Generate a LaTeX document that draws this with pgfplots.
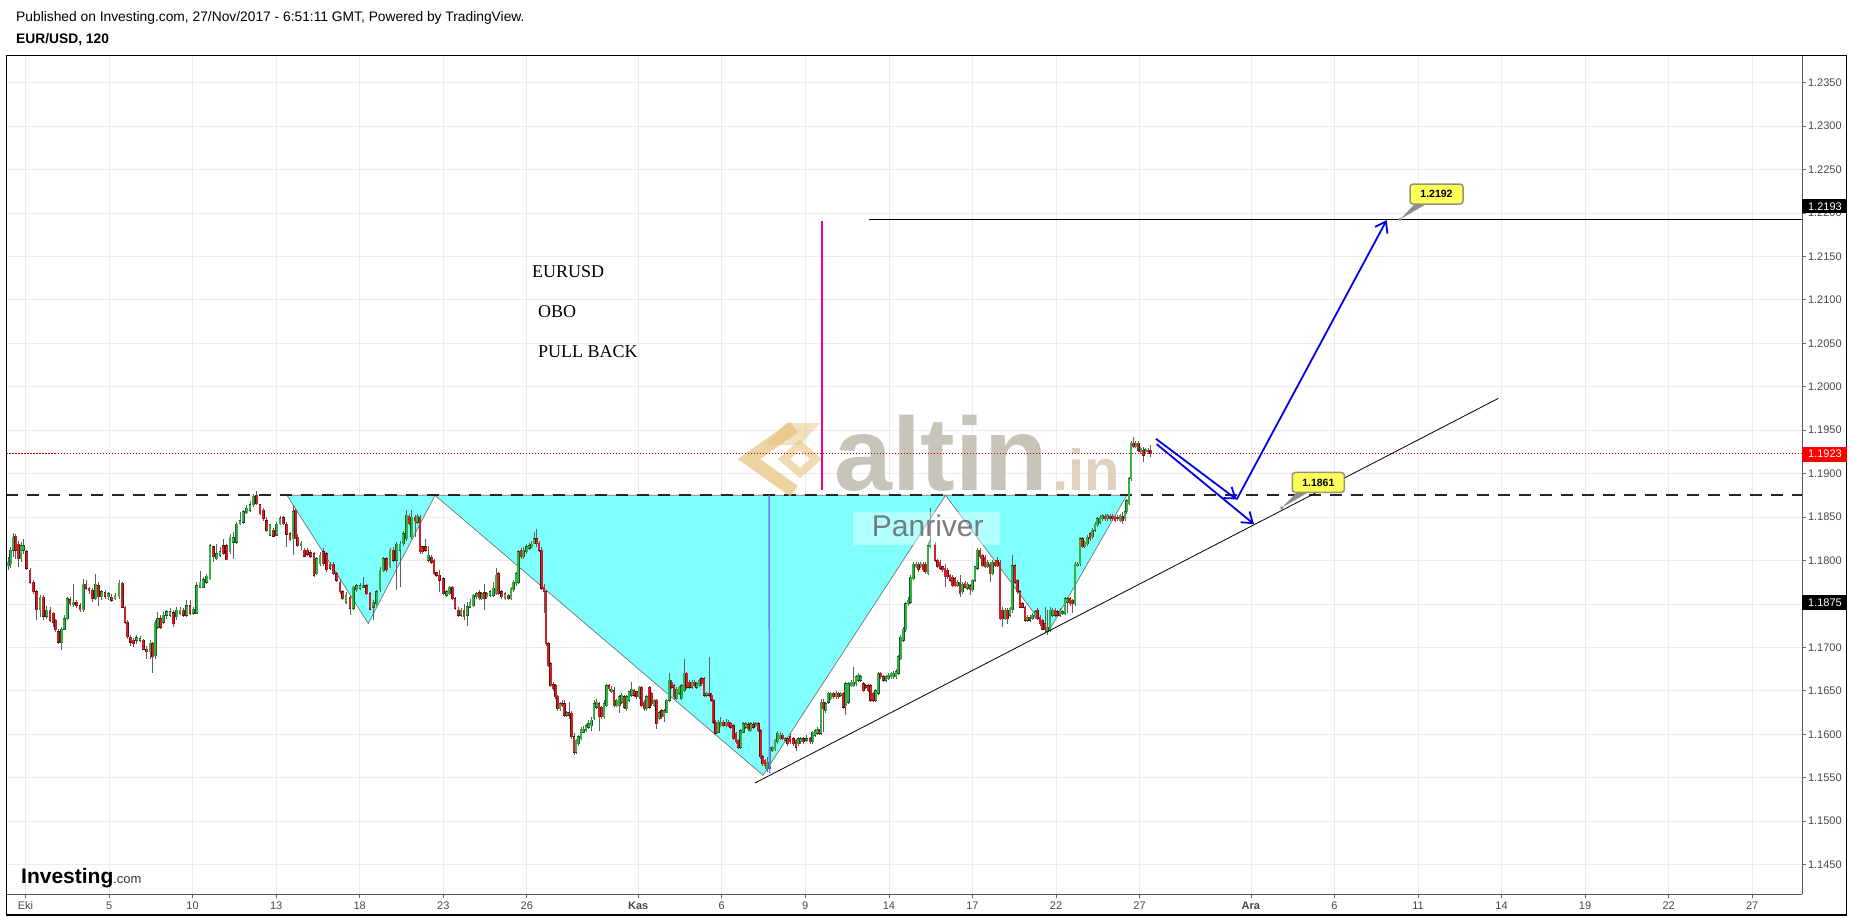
\documentclass[border=0pt]{standalone}
\usepackage{fontspec}
\setmainfont{Liberation Sans}
\newfontfamily\timesfont{Liberation Serif}
\usepackage{pgfplots}
\pgfplotsset{compat=1.18}
\usepackage{pgfplotstable}
\usetikzlibrary{arrows.meta}
\definecolor{upc}{RGB}{52,178,72}
\definecolor{dnc}{RGB}{204,34,38}
\definecolor{upo}{RGB}{20,90,30}
\definecolor{dno}{RGB}{100,10,12}
\definecolor{wickc}{RGB}{95,95,95}
\definecolor{cy}{RGB}{128,255,255}
\definecolor{gridc}{RGB}{236,236,236}
\definecolor{arrowblue}{RGB}{0,0,230}
\definecolor{vblue}{RGB}{110,125,255}
\definecolor{gold}{RGB}{230,196,128}
\definecolor{altc}{RGB}{200,196,186}
\definecolor{inc}{RGB}{224,210,190}
\definecolor{ylw}{RGB}{255,255,90}
\definecolor{ylwb}{RGB}{150,150,110}
\pgfplotsset{candle/.style={draw=none, mark=none, forget plot, error bars/.cd, y dir=plus, y explicit, error mark=none, error bar style={#1}}}

\pgfplotstableread{
x o h l c
8.3 1.1794 1.1804 1.1789 1.1798
10.7 1.1796 1.1816 1.1791 1.1812
13.3 1.1812 1.1832 1.1804 1.1827
21 1.1802 1.1821 1.1798 1.1817
23.3 1.1812 1.1825 1.1808 1.1817
40 1.1743 1.1760 1.1735 1.1758
46.7 1.1736 1.1748 1.1733 1.1743
61.7 1.1705 1.1723 1.1697 1.1721
64.3 1.1721 1.1737 1.1720 1.1733
67.3 1.1733 1.1758 1.1731 1.1756
73.3 1.1749 1.1773 1.1746 1.1752
83.3 1.1743 1.1779 1.1741 1.1773
95.7 1.1756 1.1785 1.1754 1.1773
101.7 1.1758 1.1766 1.1754 1.1764
108.3 1.1758 1.1764 1.1755 1.1762
115 1.1756 1.1763 1.1754 1.1760
119 1.1758 1.1777 1.1756 1.1774
136.7 1.1708 1.1714 1.1704 1.1711
140 1.1708 1.1713 1.1706 1.1710
150 1.1695 1.1708 1.1687 1.1705
155.3 1.1690 1.1731 1.1687 1.1729
157.7 1.1723 1.1741 1.1721 1.1733
163.3 1.1729 1.1741 1.1727 1.1737
166.7 1.1737 1.1743 1.1733 1.1741
170 1.1737 1.1745 1.1735 1.1741
176.7 1.1735 1.1746 1.1731 1.1743
180 1.1739 1.1746 1.1737 1.1743
186.7 1.1737 1.1755 1.1735 1.1748
193.3 1.1739 1.1746 1.1737 1.1744
196.7 1.1739 1.1775 1.1738 1.1771
200 1.1769 1.1788 1.1768 1.1775
203.3 1.1769 1.1781 1.1768 1.1778
206.7 1.1775 1.1785 1.1773 1.1782
210 1.1779 1.1819 1.1777 1.1817
216.7 1.1802 1.1819 1.1800 1.1808
220 1.1806 1.1816 1.1804 1.1810
230 1.1810 1.1831 1.1808 1.1827
233.3 1.1821 1.1833 1.1802 1.1826
236.7 1.1821 1.1844 1.1819 1.1842
240 1.1842 1.1856 1.1841 1.1846
243.3 1.1844 1.1858 1.1842 1.1856
246.7 1.1855 1.1864 1.1853 1.1860
250 1.1858 1.1869 1.1856 1.1864
253.3 1.1864 1.1877 1.1862 1.1874
270 1.1829 1.1842 1.1828 1.1841
276.7 1.1829 1.1844 1.1828 1.1842
280 1.1842 1.1851 1.1841 1.1848
293.3 1.1825 1.1864 1.1806 1.1856
301 1.1817 1.1822 1.1812 1.1820
316.7 1.1785 1.1804 1.1783 1.1802
320 1.1796 1.1810 1.1794 1.1806
346 1.1752 1.1764 1.1750 1.1760
353.3 1.1745 1.1771 1.1743 1.1769
356.7 1.1766 1.1773 1.1764 1.1771
360 1.1768 1.1774 1.1766 1.1771
363.3 1.1769 1.1781 1.1768 1.1771
373.3 1.1746 1.1754 1.1731 1.1752
376.7 1.1750 1.1766 1.1748 1.1764
380 1.1766 1.1793 1.1764 1.1789
383.3 1.1788 1.1804 1.1787 1.1802
390 1.1793 1.1814 1.1791 1.1812
396.7 1.1800 1.1821 1.1766 1.1819
400 1.1812 1.1823 1.1769 1.1819
403.3 1.1819 1.1834 1.1817 1.1831
406.7 1.1825 1.1858 1.1823 1.1852
411.7 1.1827 1.1858 1.1825 1.1850
417.3 1.1844 1.1853 1.1842 1.1851
428.3 1.1800 1.1817 1.1798 1.1806
446.7 1.1760 1.1766 1.1758 1.1764
449.3 1.1762 1.1771 1.1760 1.1769
461 1.1737 1.1745 1.1735 1.1743
467.3 1.1737 1.1752 1.1725 1.1747
470 1.1746 1.1756 1.1745 1.1752
473.3 1.1748 1.1762 1.1746 1.1760
476.7 1.1758 1.1764 1.1756 1.1762
481.7 1.1756 1.1764 1.1754 1.1762
486.7 1.1758 1.1764 1.1756 1.1762
490 1.1760 1.1766 1.1758 1.1764
493.3 1.1760 1.1775 1.1758 1.1768
496 1.1762 1.1791 1.1760 1.1783
505 1.1756 1.1764 1.1754 1.1762
511 1.1756 1.1769 1.1754 1.1768
513.3 1.1766 1.1777 1.1764 1.1775
516 1.1773 1.1787 1.1771 1.1785
518.3 1.1775 1.1812 1.1773 1.1810
523.3 1.1804 1.1816 1.1802 1.1812
526.7 1.1810 1.1819 1.1808 1.1816
529.3 1.1814 1.1820 1.1812 1.1817
531.7 1.1816 1.1823 1.1814 1.1819
534 1.1819 1.1833 1.1819 1.1825
560 1.1629 1.1637 1.1627 1.1635
566.7 1.1622 1.1627 1.1620 1.1625
576 1.1579 1.1595 1.1577 1.1593
578.3 1.1589 1.1599 1.1587 1.1597
581 1.1595 1.1608 1.1593 1.1606
583.3 1.1602 1.1609 1.1601 1.1606
586 1.1604 1.1612 1.1602 1.1610
588.7 1.1608 1.1616 1.1606 1.1612
591.3 1.1610 1.1620 1.1604 1.1616
594 1.1618 1.1639 1.1616 1.1635
596.7 1.1631 1.1641 1.1629 1.1637
604 1.1620 1.1639 1.1618 1.1635
606.7 1.1633 1.1658 1.1631 1.1656
611.7 1.1649 1.1656 1.1647 1.1652
616.7 1.1633 1.1641 1.1631 1.1639
619.3 1.1633 1.1645 1.1625 1.1643
621.7 1.1637 1.1647 1.1635 1.1645
626.7 1.1629 1.1645 1.1627 1.1643
629 1.1639 1.1650 1.1637 1.1649
631.7 1.1645 1.1660 1.1643 1.1652
639.3 1.1643 1.1656 1.1641 1.1654
646.7 1.1629 1.1645 1.1627 1.1643
654.3 1.1633 1.1641 1.1631 1.1639
659.3 1.1618 1.1627 1.1616 1.1625
664 1.1620 1.1629 1.1614 1.1627
666.7 1.1625 1.1641 1.1624 1.1639
669.3 1.1639 1.1670 1.1637 1.1662
676.7 1.1641 1.1654 1.1639 1.1652
679.3 1.1647 1.1656 1.1645 1.1654
681.7 1.1641 1.1658 1.1639 1.1656
684.3 1.1650 1.1687 1.1649 1.1670
692 1.1654 1.1662 1.1652 1.1660
696.7 1.1654 1.1660 1.1652 1.1658
699.3 1.1656 1.1664 1.1654 1.1662
706.7 1.1645 1.1649 1.1643 1.1647
718.3 1.1602 1.1616 1.1601 1.1614
720.7 1.1610 1.1620 1.1608 1.1614
726 1.1610 1.1618 1.1608 1.1614
740.7 1.1585 1.1606 1.1583 1.1604
743.3 1.1602 1.1614 1.1601 1.1612
745.7 1.1608 1.1614 1.1606 1.1612
750.7 1.1604 1.1614 1.1602 1.1612
755.7 1.1610 1.1614 1.1608 1.1612
767.3 1.1560 1.1574 1.1556 1.1568
770 1.1562 1.1585 1.1560 1.1583
772.7 1.1581 1.1587 1.1579 1.1585
775 1.1583 1.1595 1.1581 1.1593
777.7 1.1591 1.1604 1.1589 1.1601
780 1.1595 1.1602 1.1593 1.1599
785 1.1593 1.1597 1.1591 1.1595
798.3 1.1589 1.1597 1.1587 1.1595
800.7 1.1591 1.1597 1.1589 1.1595
806.7 1.1593 1.1599 1.1591 1.1595
812.7 1.1591 1.1604 1.1589 1.1602
815 1.1599 1.1606 1.1597 1.1604
817.3 1.1601 1.1608 1.1599 1.1606
821 1.1601 1.1641 1.1599 1.1637
825.7 1.1627 1.1637 1.1625 1.1635
828.3 1.1637 1.1649 1.1635 1.1647
830.7 1.1641 1.1649 1.1639 1.1647
836 1.1643 1.1650 1.1641 1.1647
840.7 1.1645 1.1649 1.1643 1.1647
845.7 1.1633 1.1660 1.1622 1.1658
848.3 1.1637 1.1660 1.1635 1.1658
851 1.1656 1.1662 1.1654 1.1660
853.3 1.1656 1.1677 1.1654 1.1660
856 1.1658 1.1668 1.1656 1.1666
858.3 1.1662 1.1670 1.1660 1.1668
860.7 1.1662 1.1668 1.1660 1.1666
875.7 1.1639 1.1652 1.1637 1.1650
878.3 1.1647 1.1672 1.1645 1.1670
886 1.1662 1.1668 1.1660 1.1666
888.3 1.1664 1.1670 1.1662 1.1668
891 1.1666 1.1672 1.1664 1.1670
893.3 1.1666 1.1673 1.1664 1.1670
896 1.1666 1.1675 1.1664 1.1672
898.3 1.1670 1.1691 1.1668 1.1689
900.7 1.1687 1.1714 1.1685 1.1712
903.3 1.1708 1.1723 1.1706 1.1721
905.7 1.1720 1.1752 1.1718 1.1750
908.3 1.1750 1.1758 1.1748 1.1754
910.7 1.1752 1.1783 1.1750 1.1781
913.3 1.1779 1.1798 1.1777 1.1796
916 1.1793 1.1798 1.1791 1.1796
920.7 1.1793 1.1798 1.1791 1.1796
928 1.1785 1.1821 1.1783 1.1817
930 1.1816 1.1861 1.1814 1.1823
957.3 1.1771 1.1777 1.1769 1.1775
962.3 1.1764 1.1775 1.1762 1.1773
967.3 1.1768 1.1775 1.1766 1.1773
972.3 1.1766 1.1779 1.1764 1.1777
975 1.1777 1.1794 1.1775 1.1793
977.3 1.1791 1.1814 1.1789 1.1812
987.3 1.1793 1.1800 1.1791 1.1798
992.3 1.1785 1.1800 1.1783 1.1798
1005 1.1733 1.1745 1.1731 1.1743
1010 1.1737 1.1746 1.1735 1.1745
1012.3 1.1743 1.1806 1.1739 1.1794
1027.3 1.1731 1.1737 1.1729 1.1735
1032.3 1.1733 1.1739 1.1731 1.1737
1035 1.1735 1.1743 1.1733 1.1741
1047.3 1.1718 1.1743 1.1714 1.1723
1050 1.1720 1.1746 1.1718 1.1743
1052.7 1.1737 1.1745 1.1735 1.1743
1060 1.1737 1.1745 1.1735 1.1743
1062.3 1.1739 1.1743 1.1737 1.1741
1065 1.1739 1.1758 1.1737 1.1756
1067.3 1.1752 1.1758 1.1739 1.1756
1075 1.1750 1.1798 1.1748 1.1796
1077.3 1.1794 1.1798 1.1793 1.1796
1080 1.1796 1.1827 1.1794 1.1825
1084.7 1.1816 1.1823 1.1814 1.1821
1087.3 1.1819 1.1829 1.1817 1.1827
1092.3 1.1827 1.1837 1.1825 1.1835
1095 1.1835 1.1844 1.1833 1.1842
1097.3 1.1841 1.1850 1.1839 1.1848
1100 1.1844 1.1852 1.1842 1.1850
1102.3 1.1848 1.1854 1.1846 1.1852
1107.3 1.1848 1.1854 1.1846 1.1852
1120 1.1846 1.1854 1.1844 1.1852
1125 1.1848 1.1858 1.1846 1.1856
1126.7 1.1856 1.1871 1.1854 1.1869
1129 1.1865 1.1896 1.1864 1.1894
1131 1.1894 1.1937 1.1892 1.1935
1135.7 1.1931 1.1937 1.1929 1.1935
1140.7 1.1925 1.1931 1.1923 1.1929
1145.7 1.1925 1.1929 1.1923 1.1928
}\upbars

\pgfplotstableread{
x o h l c
15.7 1.1828 1.1831 1.1802 1.1812
18.3 1.1819 1.1823 1.1793 1.1802
26.7 1.1810 1.1812 1.1789 1.1791
30 1.1789 1.1791 1.1773 1.1775
33.3 1.1775 1.1777 1.1762 1.1764
36.7 1.1764 1.1766 1.1731 1.1743
43.3 1.1758 1.1760 1.1731 1.1736
50 1.1743 1.1746 1.1729 1.1731
53.3 1.1739 1.1741 1.1723 1.1729
55.7 1.1731 1.1733 1.1718 1.1720
58.3 1.1718 1.1721 1.1704 1.1706
70 1.1755 1.1758 1.1748 1.1750
76.7 1.1752 1.1754 1.1745 1.1748
80 1.1748 1.1751 1.1741 1.1743
86 1.1773 1.1777 1.1766 1.1768
89 1.1768 1.1769 1.1762 1.1765
92.3 1.1766 1.1768 1.1752 1.1756
98.3 1.1771 1.1775 1.1748 1.1758
105 1.1763 1.1766 1.1756 1.1759
111.7 1.1758 1.1761 1.1752 1.1754
122.3 1.1774 1.1775 1.1745 1.1746
125 1.1746 1.1748 1.1727 1.1729
127.3 1.1729 1.1731 1.1710 1.1712
130.7 1.1712 1.1714 1.1702 1.1706
133.3 1.1708 1.1711 1.1700 1.1704
143.3 1.1708 1.1710 1.1697 1.1698
146.7 1.1698 1.1702 1.1687 1.1695
152.7 1.1704 1.1706 1.1670 1.1689
160.7 1.1733 1.1737 1.1721 1.1723
173.3 1.1740 1.1743 1.1724 1.1727
183.3 1.1743 1.1745 1.1735 1.1737
190 1.1748 1.1754 1.1737 1.1739
213.3 1.1816 1.1817 1.1798 1.1804
223.3 1.1817 1.1825 1.1806 1.1808
226.7 1.1817 1.1819 1.1800 1.1801
256.7 1.1875 1.1880 1.1864 1.1865
260 1.1864 1.1865 1.1852 1.1854
263.3 1.1858 1.1860 1.1846 1.1848
266.7 1.1846 1.1850 1.1833 1.1834
273.3 1.1835 1.1837 1.1827 1.1828
283.3 1.1849 1.1851 1.1841 1.1842
286.7 1.1842 1.1844 1.1816 1.1830
290 1.1831 1.1833 1.1822 1.1824
295.7 1.1858 1.1860 1.1825 1.1827
297.7 1.1827 1.1831 1.1816 1.1817
304.3 1.1812 1.1814 1.1804 1.1805
307.3 1.1812 1.1814 1.1805 1.1807
310.7 1.1809 1.1812 1.1803 1.1805
314 1.1808 1.1810 1.1781 1.1783
323.3 1.1810 1.1814 1.1794 1.1796
326.7 1.1808 1.1810 1.1787 1.1789
330 1.1796 1.1798 1.1789 1.1791
333.3 1.1796 1.1798 1.1783 1.1785
336.7 1.1785 1.1787 1.1775 1.1777
340 1.1775 1.1779 1.1762 1.1764
342.7 1.1764 1.1766 1.1754 1.1756
350 1.1758 1.1760 1.1737 1.1745
366.7 1.1771 1.1773 1.1760 1.1762
370 1.1762 1.1764 1.1743 1.1744
386.7 1.1802 1.1804 1.1787 1.1789
393.3 1.1812 1.1816 1.1798 1.1800
409 1.1851 1.1854 1.1841 1.1842
415 1.1850 1.1852 1.1827 1.1846
420 1.1850 1.1852 1.1808 1.1810
422.3 1.1816 1.1817 1.1808 1.1810
425.7 1.1816 1.1825 1.1810 1.1812
431.7 1.1804 1.1806 1.1796 1.1798
434 1.1800 1.1802 1.1783 1.1785
436.7 1.1786 1.1787 1.1781 1.1783
439.3 1.1783 1.1789 1.1764 1.1777
443.3 1.1779 1.1781 1.1760 1.1762
452.7 1.1769 1.1771 1.1754 1.1756
455 1.1756 1.1758 1.1743 1.1745
458.3 1.1743 1.1746 1.1735 1.1737
464 1.1743 1.1750 1.1732 1.1735
479.3 1.1763 1.1766 1.1754 1.1757
484.3 1.1763 1.1773 1.1743 1.1756
498.3 1.1785 1.1787 1.1760 1.1762
501.7 1.1764 1.1766 1.1756 1.1758
508.3 1.1760 1.1762 1.1754 1.1756
521 1.1812 1.1814 1.1802 1.1804
536.7 1.1825 1.1836 1.1816 1.1819
539 1.1820 1.1823 1.1810 1.1812
541.7 1.1812 1.1815 1.1766 1.1768
544 1.1769 1.1773 1.1739 1.1764
546 1.1764 1.1766 1.1702 1.1704
548.3 1.1704 1.1706 1.1677 1.1679
550.7 1.1681 1.1683 1.1654 1.1656
553.3 1.1657 1.1660 1.1650 1.1652
555.7 1.1656 1.1658 1.1641 1.1643
557.7 1.1644 1.1645 1.1627 1.1629
562.3 1.1635 1.1639 1.1631 1.1633
564.3 1.1635 1.1639 1.1620 1.1622
569 1.1625 1.1637 1.1618 1.1622
571.7 1.1624 1.1627 1.1595 1.1597
574 1.1597 1.1601 1.1576 1.1579
599 1.1635 1.1637 1.1604 1.1620
601.7 1.1631 1.1633 1.1618 1.1620
609 1.1656 1.1658 1.1650 1.1652
614 1.1650 1.1654 1.1631 1.1633
624 1.1643 1.1645 1.1629 1.1631
634 1.1650 1.1652 1.1643 1.1645
636.7 1.1649 1.1650 1.1641 1.1643
641.7 1.1654 1.1656 1.1631 1.1633
644 1.1637 1.1639 1.1627 1.1629
649.3 1.1654 1.1656 1.1629 1.1631
651.7 1.1647 1.1649 1.1633 1.1635
656.7 1.1639 1.1641 1.1606 1.1612
661.7 1.1627 1.1629 1.1618 1.1620
671.7 1.1660 1.1662 1.1652 1.1654
674 1.1656 1.1658 1.1641 1.1643
686.7 1.1670 1.1672 1.1652 1.1654
689.3 1.1660 1.1662 1.1652 1.1654
694.3 1.1660 1.1662 1.1654 1.1656
701.7 1.1664 1.1666 1.1656 1.1658
704 1.1664 1.1666 1.1643 1.1645
709.3 1.1647 1.1689 1.1643 1.1645
711.7 1.1645 1.1647 1.1637 1.1639
713.3 1.1639 1.1641 1.1612 1.1614
715.7 1.1614 1.1616 1.1599 1.1601
723.3 1.1614 1.1616 1.1608 1.1610
728.3 1.1614 1.1616 1.1608 1.1610
730.7 1.1612 1.1614 1.1606 1.1608
733.3 1.1610 1.1612 1.1593 1.1595
736 1.1601 1.1602 1.1589 1.1591
738.3 1.1593 1.1595 1.1583 1.1585
748.3 1.1611 1.1614 1.1604 1.1606
753.3 1.1611 1.1614 1.1606 1.1608
758.3 1.1612 1.1614 1.1602 1.1604
760.7 1.1604 1.1606 1.1572 1.1574
762.7 1.1574 1.1576 1.1564 1.1566
765 1.1570 1.1572 1.1560 1.1564
782.7 1.1599 1.1601 1.1593 1.1595
787.7 1.1595 1.1597 1.1587 1.1589
790 1.1597 1.1601 1.1589 1.1591
793.3 1.1595 1.1597 1.1587 1.1589
796 1.1593 1.1595 1.1581 1.1585
803.3 1.1595 1.1597 1.1589 1.1591
810 1.1595 1.1597 1.1589 1.1591
819.3 1.1604 1.1606 1.1599 1.1601
823.3 1.1637 1.1641 1.1602 1.1629
833.3 1.1647 1.1649 1.1641 1.1643
838.3 1.1647 1.1649 1.1641 1.1643
843.3 1.1647 1.1649 1.1629 1.1631
863.3 1.1658 1.1660 1.1649 1.1650
865.7 1.1656 1.1658 1.1652 1.1654
868.3 1.1656 1.1658 1.1649 1.1650
870.7 1.1656 1.1658 1.1637 1.1639
873.3 1.1647 1.1649 1.1637 1.1639
880.7 1.1670 1.1672 1.1664 1.1666
883.3 1.1666 1.1668 1.1660 1.1662
918.3 1.1796 1.1798 1.1787 1.1789
923.3 1.1796 1.1798 1.1787 1.1789
925.7 1.1796 1.1798 1.1785 1.1787
935 1.1819 1.1821 1.1798 1.1800
937.7 1.1800 1.1802 1.1791 1.1793
940 1.1798 1.1800 1.1789 1.1791
942.7 1.1793 1.1794 1.1787 1.1789
945 1.1791 1.1796 1.1769 1.1781
947.3 1.1789 1.1791 1.1779 1.1781
950 1.1783 1.1785 1.1775 1.1777
952.3 1.1781 1.1783 1.1769 1.1771
955 1.1779 1.1781 1.1769 1.1771
960 1.1775 1.1783 1.1758 1.1762
965 1.1774 1.1776 1.1768 1.1769
970 1.1771 1.1773 1.1760 1.1766
980 1.1812 1.1814 1.1802 1.1804
982.3 1.1806 1.1808 1.1793 1.1794
985 1.1804 1.1806 1.1791 1.1793
990 1.1796 1.1798 1.1775 1.1785
995 1.1798 1.1800 1.1793 1.1794
997.3 1.1800 1.1804 1.1793 1.1794
1000 1.1798 1.1800 1.1731 1.1733
1002.3 1.1743 1.1746 1.1723 1.1733
1007.3 1.1743 1.1745 1.1727 1.1733
1015 1.1794 1.1796 1.1773 1.1775
1017.3 1.1777 1.1779 1.1762 1.1764
1020 1.1764 1.1766 1.1745 1.1746
1022.3 1.1750 1.1752 1.1745 1.1746
1025 1.1746 1.1748 1.1729 1.1731
1030 1.1735 1.1737 1.1729 1.1731
1037.3 1.1743 1.1745 1.1731 1.1733
1040 1.1735 1.1737 1.1725 1.1727
1042.3 1.1731 1.1733 1.1720 1.1721
1045 1.1727 1.1746 1.1716 1.1720
1055 1.1743 1.1745 1.1735 1.1737
1057.3 1.1741 1.1743 1.1735 1.1737
1070 1.1756 1.1758 1.1748 1.1750
1072.3 1.1754 1.1756 1.1739 1.1750
1082.3 1.1825 1.1827 1.1814 1.1816
1090 1.1831 1.1833 1.1823 1.1825
1105 1.1851 1.1853 1.1846 1.1848
1110 1.1851 1.1853 1.1846 1.1848
1112.7 1.1851 1.1853 1.1846 1.1848
1115 1.1850 1.1852 1.1844 1.1846
1117.3 1.1850 1.1852 1.1846 1.1848
1122.3 1.1851 1.1856 1.1842 1.1846
1133.3 1.1935 1.1942 1.1929 1.1931
1138.3 1.1935 1.1937 1.1925 1.1927
1143.3 1.1927 1.1931 1.1913 1.1921
1148.3 1.1927 1.1929 1.1923 1.1925
1150.7 1.1927 1.1933 1.1919 1.1923
}\dnbars

\begin{document}
\begin{tikzpicture}[x=1pt,y=1pt]
\path (0,0) rectangle (1853,918);
\begin{axis}[
  at={(6.5pt,23.7pt)}, anchor=south west,
  scale only axis, width=1795.5pt, height=838.6pt,
  xmin=6.5, xmax=1802, ymin=1.141575, ymax=1.238109,
  axis line style={draw=none},
  xtick={25.5,109.1,192.6,276.2,359.7,443.3,526.8,638.2,721.8,805.3,888.9,972.4,1056,1139.5,1250.9,1334.5,1418,1501.6,1585.1,1668.7,1752.2},
  xticklabels={Eki,5,10,13,18,23,26,\textbf{Kas},6,9,14,17,22,27,\textbf{Ara},6,11,14,19,22,27},
  ytick={1.145,1.150,1.155,1.160,1.165,1.170,1.175,1.180,1.185,1.190,1.195,1.200,1.205,1.210,1.215,1.220,1.225,1.230,1.235},
  xtick pos=bottom, ytick pos=right, yticklabel pos=right,
  tick align=outside, major tick length=4pt,
  tick style={draw=black!60, line width=0.8pt},
  grid=major, major grid style={draw=gridc, line width=0.8pt},
  tick label style={font=\fontsize{11}{13}\selectfont, text=black!72},
  yticklabel style={xshift=-1.5pt},
  /pgf/number format/assume math mode=true,
  yticklabel style={/pgf/number format/fixed, /pgf/number format/fixed zerofill, /pgf/number format/precision=4},
]
% inverse head and shoulders
\filldraw[fill=cy, draw=black!55, line width=0.7pt] (287,1.1875) -- (368.3,1.17275) -- (435,1.1875) -- cycle;
\filldraw[fill=cy, draw=black!55, line width=0.7pt] (435,1.1875) -- (763,1.15528) -- (945.5,1.1875) -- cycle;
\filldraw[fill=cy, draw=black!55, line width=0.7pt] (945.5,1.1875) -- (1048.3,1.17178) -- (1126.7,1.1875) -- cycle;
% neckline dashed
\draw[black!85, line width=2pt, dash pattern=on 12pt off 9pt] (6.5,1.1875) -- (1802,1.1875);

% candles: wicks
\addplot[candle={line width=0.7pt, draw=wickc}] table[x=x, y=l, y error plus expr=\thisrow{h}-\thisrow{l}] {\upbars};
\addplot[candle={line width=0.7pt, draw=wickc}] table[x=x, y=l, y error plus expr=\thisrow{h}-\thisrow{l}] {\dnbars};
% body outlines
\addplot[candle={line width=2.5pt, draw=upo}] table[x=x, y expr=\thisrow{o}-0.00005, y error plus expr=\thisrow{c}-\thisrow{o}+0.0001] {\upbars};
\addplot[candle={line width=2.5pt, draw=dno}] table[x=x, y expr=\thisrow{c}-0.00005, y error plus expr=\thisrow{o}-\thisrow{c}+0.0001] {\dnbars};
% bodies
\addplot[candle={line width=1.7pt, draw=upc}] table[x=x, y=o, y error plus expr=\thisrow{c}-\thisrow{o}] {\upbars};
\addplot[candle={line width=1.7pt, draw=dnc}] table[x=x, y=c, y error plus expr=\thisrow{o}-\thisrow{c}] {\dnbars};

% watermark altin.in
\coordinate (logo) at (776,1.19167);
\draw[gold, opacity=0.75, line width=13pt, line join=miter] ([shift={(18pt,32pt)}]logo) -- ([shift={(-27pt,0pt)}]logo) -- ([shift={(18pt,-32pt)}]logo);
\fill[gold, opacity=0.5] ([shift={(-10pt,14pt)}]logo) -- ([shift={(10pt,36pt)}]logo) -- ([shift={(44pt,36pt)}]logo) -- ([shift={(24pt,14pt)}]logo) -- cycle;
\draw[gold, opacity=0.6, line width=8pt] ([shift={(8pt,0pt)}]logo) -- ([shift={(24pt,14pt)}]logo) -- ([shift={(40pt,0pt)}]logo) -- ([shift={(24pt,-14pt)}]logo) -- cycle;
\node[anchor=base west, inner sep=0, text=altc] at (834,1.18810) {\fontsize{104}{104}\selectfont\bfseries altin};
\node[anchor=base west, inner sep=0, text=inc] at (1052,1.18810) {\fontsize{58}{58}\selectfont\bfseries .in};
% Panriver
\fill[white, opacity=0.4] (853.3,1.18177) rectangle (1000,1.18561);
\node[anchor=base west, inner sep=0, text=black!60, opacity=0.85] at (871.7,1.18280) {\fontsize{30}{30}\selectfont Panriver};

% price lines
\draw[red!80!black, line width=0.8pt, dash pattern=on 1.5pt off 1.5pt] (6.5,1.1923) -- (1802,1.1923);
\draw[black, line width=1pt] (868.6,1.2193) -- (1802,1.2193);
\draw[black, line width=0.8pt] (755,1.15439) -- (1498.3,1.19866);
\draw[vblue, line width=1.5pt] (769,1.1875) -- (769.5,1.1555);
\draw[magenta, line width=2pt] (821.7,1.21907) -- (821.7,1.18810);

% arrows
\draw[arrowblue, line width=1.8pt, -{Straight Barb[length=10pt,width=14pt]}] (1156,1.19400) -- (1236.7,1.18703);
\draw[arrowblue, line width=1.8pt, -{Straight Barb[length=10pt,width=14pt]}] (1156.7,1.19339) -- (1254,1.18418);
\draw[arrowblue, line width=1.8pt, -{Straight Barb[length=10pt,width=14pt]}] (1236.7,1.18703) -- (1386.7,1.21919);

% callouts
\fill[black!45] (1416,1.22115) -- (1400,1.21927) -- (1428,1.22115) -- cycle;
\fill[black!45] (1400,1.21927) circle (1.8pt);
\node[draw=ylwb, fill=ylw, line width=1.5pt, rounded corners=3pt, minimum width=53pt, minimum height=20pt, inner sep=0, font=\fontsize{10.5}{12}\selectfont\bfseries] at (1436.5,1.22218) {1.2192};
\fill[black!45] (1298,1.18798) -- (1281.7,1.18606) -- (1310,1.18798) -- cycle;
\fill[black!45] (1281.7,1.18606) circle (1.8pt);
\node[draw=ylwb, fill=ylw, line width=1.5pt, rounded corners=3pt, minimum width=52pt, minimum height=20pt, inner sep=0, font=\fontsize{10.5}{12}\selectfont\bfseries] at (1318.3,1.18898) {1.1861};

% texts
\node[anchor=west, inner sep=0, font=\timesfont\fontsize{18}{20}\selectfont] at (532,1.21320) {EURUSD};
\node[anchor=west, inner sep=0, font=\timesfont\fontsize{18}{20}\selectfont] at (538,1.20860) {OBO};
\node[anchor=west, inner sep=0, font=\timesfont\fontsize{18}{20}\selectfont] at (538,1.20399) {PULL BACK};
\end{axis}

% axis lines and frame
\draw[black!65, line width=0.9pt] (1802,23.7) -- (1802,862.3);
\draw[black!65, line width=0.9pt] (6.5,23.7) -- (1802,23.7);
\draw[black, line width=1.5pt] (6.5,3) rectangle (1846.7,862.3);

% price boxes on the right axis
\fill[black] (1802,704.7) rectangle (1846.7,718.7);
\node[text=white, inner sep=0, font=\fontsize{11}{13}\selectfont] at (1825,711.7) {1.2193};
\fill[red] (1802,456.3) rectangle (1846.7,471.3);
\node[text=white, inner sep=0, font=\fontsize{11}{13}\selectfont] at (1825,463.8) {1.1923};
\fill[black] (1802,308) rectangle (1846.7,323);
\node[text=white, inner sep=0, font=\fontsize{11}{13}\selectfont] at (1825,315.5) {1.1875};

% titles
\node[anchor=west, inner sep=0, font=\fontsize{13.8}{15}\selectfont] at (16,900.5) {Published on Investing.com, 27/Nov/2017 - 6:51:11 GMT, Powered by TradingView.};
\node[anchor=west, inner sep=0, font=\fontsize{13.8}{15}\selectfont\bfseries] at (16,878.5) {EUR/USD, 120};

% Investing.com logo
\node[anchor=base west, inner sep=0] at (21,34) {\fontsize{21}{21}\selectfont\bfseries Investing\fontsize{13}{13}\selectfont\mdseries\color{black!80}.com};
\end{tikzpicture}
\end{document}
